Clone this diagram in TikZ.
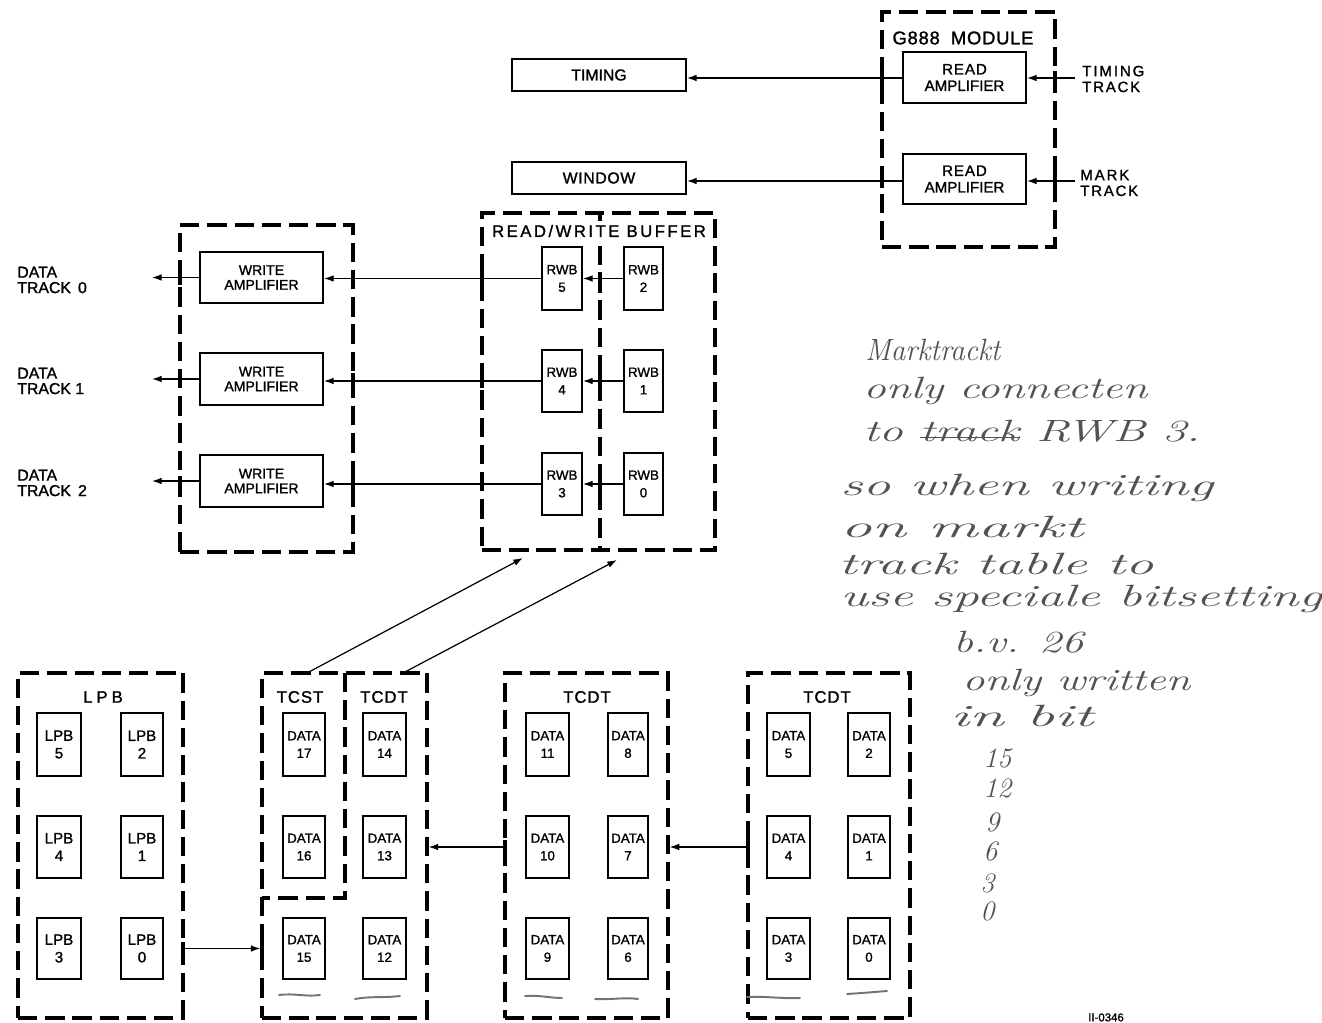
\documentclass[tikz,border=0pt]{standalone}
\usepackage{fontspec}
\usepackage{graphicx}
\newfontfamily\lett{Liberation Sans}[FakeBold=1.3]
\usetikzlibrary{arrows.meta,fit}
\newcommand\handfont{\fontsize{17.5}{20}\selectfont\itshape}
\newcommand\numfont{\fontsize{16}{18}\selectfont\itshape}
\newcommand\strk[1]{\leavevmode\setbox0\hbox{#1}\rlap{\rule[0.3ex]{\wd0}{0.8pt}}\box0\relax}
\tikzset{
  dbox/.style={draw, line width=1.8pt, dash pattern=on 11pt off 4.5pt, inner sep=0pt},
  dline/.style={line width=1.8pt, dash pattern=on 11pt off 4.5pt},
  sbox/.style={draw, line width=1.1pt, inner sep=0pt, align=center},
  arr/.style={-{Latex[length=5.5pt,width=3.8pt]}, line width=0.7pt},
  tk/.style={line width=1.8pt},
  lbl/.style={inner sep=0pt, align=center},
  hand/.style={inner sep=0pt, anchor=base west, text=black!68, font=\handfont},
  hnum/.style={inner sep=0pt, anchor=base west, text=black!68, font=\numfont},
  pencil/.style={draw=black!55, line width=1.1pt, line cap=round},
  ampf/.style={font=\lett\fontsize{8.6}{9.4}\selectfont},
  wampf/.style={font=\lett\fontsize{8}{8.4}\selectfont},
  cellf/.style={font=\lett\fontsize{7.6}{10}\selectfont},
  lpbf/.style={font=\lett\fontsize{8.6}{10}\selectfont},
  headf/.style={font=\lett\fontsize{9.5}{11}\selectfont},
  trackf/.style={font=\lett\fontsize{8.5}{9}\selectfont},
  boxf/.style={font=\lett\fontsize{9}{10}\selectfont},
}
% \bx{name}{x1}{y1}{x2}{y2}{style}{text}
\newcommand\bx[7]{\node[sbox,#6,minimum width={(#4-#2)*0.02cm},minimum height={(#5-#3)*0.02cm}] (#1) at ({(#2+#4)/2},{(#3+#5)/2}) {#7};}
\begin{document}
\begin{tikzpicture}[x=0.02cm,y=-0.02cm]
\fill[white] (0,0) rectangle (1322,1023);
\useasboundingbox (0,0) rectangle (1322,1023);

% ---------- G888 module ----------
\node[dbox, fit={(882,12) (1055,247)}] (g888) {};
\node[lbl, font=\lett\fontsize{10.5}{12}\selectfont] (g888lbl) at (963,38) {\addfontfeature{LetterSpace=4}G888\hspace{0.6em}MODULE};
\bx{ra1}{903}{52}{1026}{103}{ampf}{{\addfontfeature{LetterSpace=6}READ}\\AMPLIFIER}
\bx{ra2}{903}{154}{1026}{204}{ampf}{{\addfontfeature{LetterSpace=6}READ}\\AMPLIFIER}
\node[lbl, trackf, anchor=west, align=left] (ttlbl) at (1082,79) {\addfontfeature{LetterSpace=13}TIMING\\\addfontfeature{LetterSpace=12}TRACK};
\node[lbl, trackf, anchor=west, align=left] (mtlbl) at (1080,183) {\addfontfeature{LetterSpace=13}MARK\\\addfontfeature{LetterSpace=12}TRACK};
\coordinate (tt) at (1075,78);
\coordinate (mt) at (1075,181);

\bx{timing}{512}{59}{686}{91}{boxf}{TIMING}
\bx{window}{512}{162}{686}{194}{boxf}{\addfontfeature{LetterSpace=4}WINDOW}

\draw[arr] (tt) -- (tt -| ra1.east);
\draw[arr] (mt) -- (mt -| ra2.east);
\draw[arr] (tt -| ra1.west) -- (tt -| timing.east);
\draw[arr] (mt -| ra2.west) -- (mt -| window.east);

% ---------- Read/Write buffer ----------
\node[dbox, fit={(482,213) (715,550)}] (rwb) {};
\draw[tk] (600,213) -- (600,221);
\draw[dline] (600,246) -- (600,550);
\node[lbl, headf] (rwblbl) at (599,231) {\addfontfeature{LetterSpace=15}READ/WRITE BUFFER};
\bx{rwb5}{542}{247}{582}{310}{cellf}{RWB\\5}
\bx{rwb4}{542}{350}{582}{412}{cellf}{RWB\\4}
\bx{rwb3}{542}{453}{582}{515}{cellf}{RWB\\3}
\bx{rwb2}{624}{247}{663}{310}{cellf}{RWB\\2}
\bx{rwb1}{624}{350}{663}{412}{cellf}{RWB\\1}
\bx{rwb0}{624}{453}{663}{515}{cellf}{RWB\\0}
\draw[arr] (rwb2.west) -- (rwb2.west -| rwb5.east);
\draw[arr] (rwb1.west) -- (rwb1.west -| rwb4.east);
\draw[arr] (rwb0.west) -- (rwb0.west -| rwb3.east);

% ---------- Write amplifiers ----------
\node[dbox, fit={(180,225) (353,552)}] (wabox) {};
\bx{wa0}{200}{252}{323}{303}{wampf}{WRITE\\AMPLIFIER}
\bx{wa1}{200}{353}{323}{405}{wampf}{WRITE\\AMPLIFIER}
\bx{wa2}{200}{455}{323}{507}{wampf}{WRITE\\AMPLIFIER}
\draw[arr] (rwb5.west) -- (rwb5.west -| wa0.east);
\draw[arr] (rwb4.west) -- (rwb4.west -| wa1.east);
\draw[arr] (rwb3.west) -- (rwb3.west -| wa2.east);
\coordinate (dtx) at (152,0);
\draw[arr] (wa0.west) -- (wa0.west -| dtx);
\draw[arr] (wa1.west) -- (wa1.west -| dtx);
\draw[arr] (wa2.west) -- (wa2.west -| dtx);
\node[lbl, font=\lett\fontsize{9}{8.8}\selectfont, anchor=west, align=left] (dt0) at (17,280) {DATA\\TRACK\hspace{0.45em}0};
\node[lbl, font=\lett\fontsize{9}{8.8}\selectfont, anchor=west, align=left] (dt1) at (17,381) {DATA\\TRACK 1};
\node[lbl, font=\lett\fontsize{9}{8.8}\selectfont, anchor=west, align=left] (dt2) at (17,483) {DATA\\TRACK\hspace{0.45em}2};

% ---------- LPB ----------
\node[dbox, fit={(18,673) (183,1018)}] (lpb) {};
\node[lbl, headf] (lpblbl) at (103,697) {\addfontfeature{LetterSpace=24}LPB};
\bx{lpb5}{37}{713}{81}{776}{lpbf}{LPB\\5}
\bx{lpb2}{121}{713}{163}{776}{lpbf}{LPB\\2}
\bx{lpb4}{37}{816}{81}{878}{lpbf}{LPB\\4}
\bx{lpb1}{121}{816}{163}{878}{lpbf}{LPB\\1}
\bx{lpb3}{37}{918}{81}{979}{lpbf}{LPB\\3}
\bx{lpb0}{121}{918}{163}{979}{lpbf}{LPB\\0}

% ---------- TCST / TCDT ----------
\node[dbox, fit={(262,673) (427,1018)}] (tc1) {};
\draw[dline] (345,673) -- (345,898) -- (262,898);
\node[lbl, headf] (tcstlbl) at (300,697) {\addfontfeature{LetterSpace=6}TCST};
\node[lbl, headf] (tcdt1lbl) at (384,697) {\addfontfeature{LetterSpace=6}TCDT};
\bx{d17}{283}{713}{325}{776}{cellf}{DATA\\17}
\bx{d14}{363}{713}{406}{776}{cellf}{DATA\\14}
\bx{d16}{283}{816}{325}{878}{cellf}{DATA\\16}
\bx{d13}{363}{816}{406}{878}{cellf}{DATA\\13}
\bx{d15}{283}{918}{325}{979}{cellf}{DATA\\15}
\bx{d12}{363}{918}{406}{979}{cellf}{DATA\\12}

\node[dbox, fit={(505,673) (668,1018)}] (tc2) {};
\node[lbl, headf] (tcdt2lbl) at (587,697) {\addfontfeature{LetterSpace=6}TCDT};
\bx{d11}{526}{713}{569}{776}{cellf}{DATA\\11}
\bx{d8}{608}{713}{648}{776}{cellf}{DATA\\8}
\bx{d10}{526}{816}{569}{878}{cellf}{DATA\\10}
\bx{d7}{608}{816}{648}{878}{cellf}{DATA\\7}
\bx{d9}{526}{918}{569}{979}{cellf}{DATA\\9}
\bx{d6}{608}{918}{648}{979}{cellf}{DATA\\6}

\node[dbox, fit={(748,673) (910,1018)}] (tc3) {};
\node[lbl, headf] (tcdt3lbl) at (827,697) {\addfontfeature{LetterSpace=6}TCDT};
\bx{d5}{767}{713}{810}{776}{cellf}{DATA\\5}
\bx{d2}{848}{713}{890}{776}{cellf}{DATA\\2}
\bx{d4}{767}{816}{810}{878}{cellf}{DATA\\4}
\bx{d1}{848}{816}{890}{878}{cellf}{DATA\\1}
\bx{d3}{767}{918}{810}{979}{cellf}{DATA\\3}
\bx{d0}{848}{918}{890}{979}{cellf}{DATA\\0}

% connectors bottom
\draw[arr] (lpb0 -| lpb.east) -- (lpb0 -| tc1.west);
\draw[arr] (d10 -| tc2.west) -- (d10 -| tc1.east);
\draw[arr] (d4 -| tc3.west) -- (d4 -| tc2.east);
\coordinate (tcsttop) at (307,673);
\coordinate (tcdttop) at (403,673);
\coordinate (rwbLin) at (523,558);
\coordinate (rwbRin) at (617,560);
\draw[arr] (tcsttop) -- (rwbLin);
\draw[arr] (tcdttop) -- (rwbRin);

% solid ticks where connectors cross dashed borders
\foreach \x/\y in {882/78,882/181,1055/78,1055/181,180/278,180/380,180/483,353/278,353/380,353/483,482/279,482/381,482/484,600/279,600/381,600/484,183/949,262/949,427/847,505/847,668/847,748/847}
  \draw[tk] (\x,\y-7) -- (\x,\y+7);

% pencil underlines
\draw[pencil] (279,995) .. controls (295,993) and (305,997) .. (320,995);
\draw[pencil] (355,999) .. controls (370,996) and (385,998) .. (400,996);
\draw[pencil] (525,996) .. controls (540,995) and (550,998) .. (562,998);
\draw[pencil] (595,999) .. controls (610,1000) and (625,997) .. (638,999);
\draw[pencil] (747,997) .. controls (765,996) and (785,999) .. (800,998);
\draw[pencil] (847,994) .. controls (862,993) and (875,992) .. (887,991);

% handwritten note
\node[hand] (h1) at (865,361) {\resizebox{2.7cm}{\height}{Marktrackt}};
\node[hand] (h2) at (863,399) {\resizebox{5.68cm}{\height}{only connecten}};
\node[hand] (h3) at (863,442) {\resizebox{6.74cm}{\height}{to \strk{track} RWB 3.}};
\node[hand] (h4) at (840,496) {\resizebox{7.46cm}{\height}{so when writing}};
\node[hand] (h5) at (840,538) {\resizebox{4.86cm}{\height}{on markt}};
\node[hand] (h6) at (838,575) {\resizebox{6.3cm}{\height}{track table to}};
\node[hand] (h7) at (840,606) {\resizebox{9.64cm}{\height}{use speciale bitsetting}};
\node[hand] (h8) at (953,652) {\resizebox{2.6cm}{\height}{b.v. 26}};
\node[hand] (h9) at (962,690) {\resizebox{4.56cm}{\height}{only written}};
\node[hand] (h10) at (950,726) {\resizebox{2.86cm}{\height}{in bit}};
\node[hnum] (n15) at (983,767) {15};
\node[hnum] (n12) at (983,797) {12};
\node[hnum] (n9) at (985,831) {9};
\node[hnum] (n6) at (983,860) {6};
\node[hnum] (n3) at (980,892) {3};
\node[hnum] (n0) at (980,920) {0};

\node[lbl, font=\lett\fontsize{6.5}{7}\selectfont, anchor=north] (ref) at (1106,1013) {II-0346};
\end{tikzpicture}
\end{document}
